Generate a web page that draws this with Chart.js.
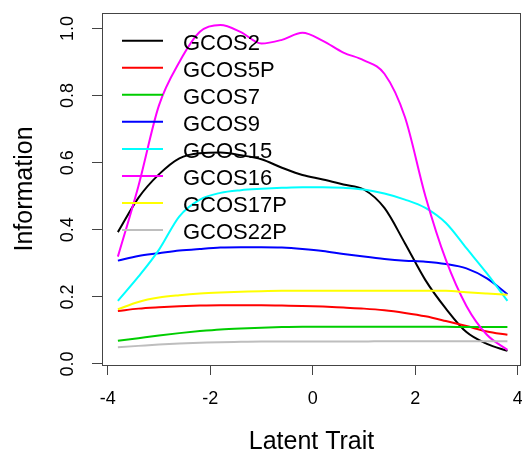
<!DOCTYPE html>
<html>
<head>
<meta charset="utf-8">
<script src="https://cdn.jsdelivr.net/npm/chart.js@4.4.0/dist/chart.umd.min.js"></script>
<style>
  html, body { margin: 0; padding: 0; background: #fff; }
  #wrap { width: 522px; height: 458px; }
</style>
</head>
<body>
<div id="wrap"><canvas id="chart" width="522" height="458"></canvas></div>
<script>
// latent trait grid and item information
const thetaGrid = [-3.8, -3.4, -3.0, -2.6, -2.2, -1.8, -1.4, -1.0, -0.6, -0.2, 0.2, 0.6, 1.0, 1.4, 1.8, 2.2, 2.6, 3.0, 3.4, 3.8];

const gcos2   = [0.393, 0.495, 0.565, 0.613, 0.628, 0.630, 0.622, 0.610, 0.585, 0.563, 0.550, 0.535, 0.520, 0.465, 0.360, 0.250, 0.165, 0.095, 0.060, 0.039];
const gcos5p  = [0.158, 0.165, 0.169, 0.172, 0.174, 0.175, 0.175, 0.175, 0.174, 0.173, 0.171, 0.168, 0.165, 0.160, 0.152, 0.142, 0.128, 0.113, 0.097, 0.087];
const gcos7   = [0.069, 0.077, 0.085, 0.092, 0.098, 0.103, 0.106, 0.108, 0.110, 0.111, 0.111, 0.111, 0.111, 0.111, 0.111, 0.111, 0.111, 0.110, 0.110, 0.110];
const gcos9   = [0.308, 0.322, 0.330, 0.338, 0.343, 0.347, 0.348, 0.348, 0.347, 0.343, 0.337, 0.328, 0.320, 0.313, 0.308, 0.305, 0.298, 0.285, 0.255, 0.208];
const gcos15  = [0.188, 0.260, 0.340, 0.440, 0.490, 0.510, 0.518, 0.522, 0.525, 0.527, 0.527, 0.525, 0.520, 0.508, 0.490, 0.465, 0.420, 0.345, 0.270, 0.188];
const gcos16  = [0.320, 0.530, 0.770, 0.900, 0.990, 1.010, 0.989, 0.955, 0.966, 0.987, 0.963, 0.928, 0.905, 0.865, 0.736, 0.500, 0.310, 0.173, 0.087, 0.042];
const gcos17p = [0.163, 0.185, 0.198, 0.205, 0.210, 0.213, 0.215, 0.217, 0.218, 0.218, 0.218, 0.218, 0.218, 0.218, 0.218, 0.218, 0.218, 0.214, 0.210, 0.206];
const gcos22p = [0.050, 0.054, 0.058, 0.061, 0.063, 0.065, 0.066, 0.067, 0.067, 0.067, 0.067, 0.067, 0.067, 0.068, 0.068, 0.068, 0.068, 0.068, 0.068, 0.068];

const seriesNames  = ['GCOS2', 'GCOS5P', 'GCOS7', 'GCOS9', 'GCOS15', 'GCOS16', 'GCOS17P', 'GCOS22P'];
const seriesValues = [gcos2, gcos5p, gcos7, gcos9, gcos15, gcos16, gcos17p, gcos22p];
const seriesColors = ['#000000', '#FF0000', '#00CD00', '#0000FF', '#00FFFF', '#FF00FF', '#FFFF00', '#BEBEBE'];

const xTickVals = [-4, -2, 0, 2, 4];
const yTickVals = [0, 0.2, 0.4, 0.6, 0.8, 1.0];

const FONT = "'Liberation Sans', Arial, Helvetica, sans-serif";
const AXIS_COLOR = '#444';
Chart.defaults.font.family = FONT;
Chart.defaults.color = '#000';

// plot frame like R's box()
const boxPlugin = {
    id: 'box',
    afterDraw(chart) {
        const {ctx, chartArea: a} = chart;
        ctx.save();
        ctx.strokeStyle = AXIS_COLOR;
        ctx.lineWidth = 1;
        ctx.strokeRect(a.left + 0.5, a.top + 0.5, a.right - a.left - 1, a.bottom - a.top);
        ctx.restore();
    }
};

// legend in the top-left of the plot, no frame
const rLegend = {
    id: 'rLegend',
    afterDatasetsDraw(chart) {
        const ctx = chart.ctx;
        ctx.save();
        ctx.font = '22px ' + FONT;
        ctx.textBaseline = 'alphabetic';
        ctx.textAlign = 'left';
        chart.data.datasets.forEach((ds, i) => {
            const y = 40.7 + i * 27.05;
            ctx.strokeStyle = ds.borderColor;
            ctx.lineWidth = 2;
            ctx.beginPath();
            ctx.moveTo(122, y);
            ctx.lineTo(163, y);
            ctx.stroke();
            ctx.fillStyle = '#000';
            ctx.fillText(ds.label, 183, y + 9);
        });
        ctx.restore();
    }
};

// drop the extra room chart.js keeps for edge labels
function noEdgePadding(scale) {
    scale.paddingLeft = 0;
    scale.paddingRight = 0;
    scale.paddingTop = 0;
    scale.paddingBottom = 0;
}

const datasets = seriesNames.map((name, i) => ({
    label: name,
    data: thetaGrid.map((t, j) => ({x: t, y: seriesValues[i][j]})),
    borderColor: seriesColors[i],
    backgroundColor: seriesColors[i],
    borderWidth: 2,
    pointRadius: 0,
    fill: false,
    cubicInterpolationMode: 'monotone',
    order: seriesNames.length - i
}));

new Chart(document.getElementById('chart'), {
    type: 'line',
    data: { datasets },
    options: {
        responsive: false,
        animation: false,
        devicePixelRatio: 1,
        layout: { padding: { top: 13, right: 1, left: 0, bottom: 0 } },
        plugins: {
            legend: { display: false },
            tooltip: { enabled: false }
        },
        scales: {
            x: {
                type: 'linear',
                min: -4.11,
                max: 4.065,
                afterBuildTicks: (scale) => { scale.ticks = xTickVals.map(v => ({value: v})); },
                afterFit: (scale) => { scale.height = 93; noEdgePadding(scale); },
                grid: { drawOnChartArea: false, tickLength: 10, color: AXIS_COLOR, tickColor: AXIS_COLOR },
                border: { display: false },
                ticks: {
                    padding: 13,
                    maxRotation: 0,
                    font: { size: 18 },
                    color: '#000',
                    callback: (v) => String(v)
                },
                title: {
                    display: true,
                    text: 'Latent Trait',
                    font: { size: 25 },
                    color: '#000',
                    padding: { top: 0, bottom: 1 }
                }
            },
            y: {
                type: 'linear',
                min: -0.003,
                max: 1.046,
                afterBuildTicks: (scale) => { scale.ticks = yTickVals.map(v => ({value: v})); },
                afterFit: (scale) => { scale.width = 102; noEdgePadding(scale); },
                grid: { drawOnChartArea: false, tickLength: 10, color: AXIS_COLOR, tickColor: AXIS_COLOR },
                border: { display: false },
                ticks: {
                    minRotation: 90,
                    maxRotation: 90,
                    crossAlign: 'center',
                    padding: 11,
                    font: { size: 18 },
                    color: '#000',
                    callback: (v) => v.toFixed(1)
                },
                title: {
                    display: true,
                    text: 'Information',
                    font: { size: 25 },
                    color: '#000',
                    padding: { top: 10, bottom: 0 }
                }
            }
        }
    },
    plugins: [boxPlugin, rLegend]
});
</script>
</body>
</html>
